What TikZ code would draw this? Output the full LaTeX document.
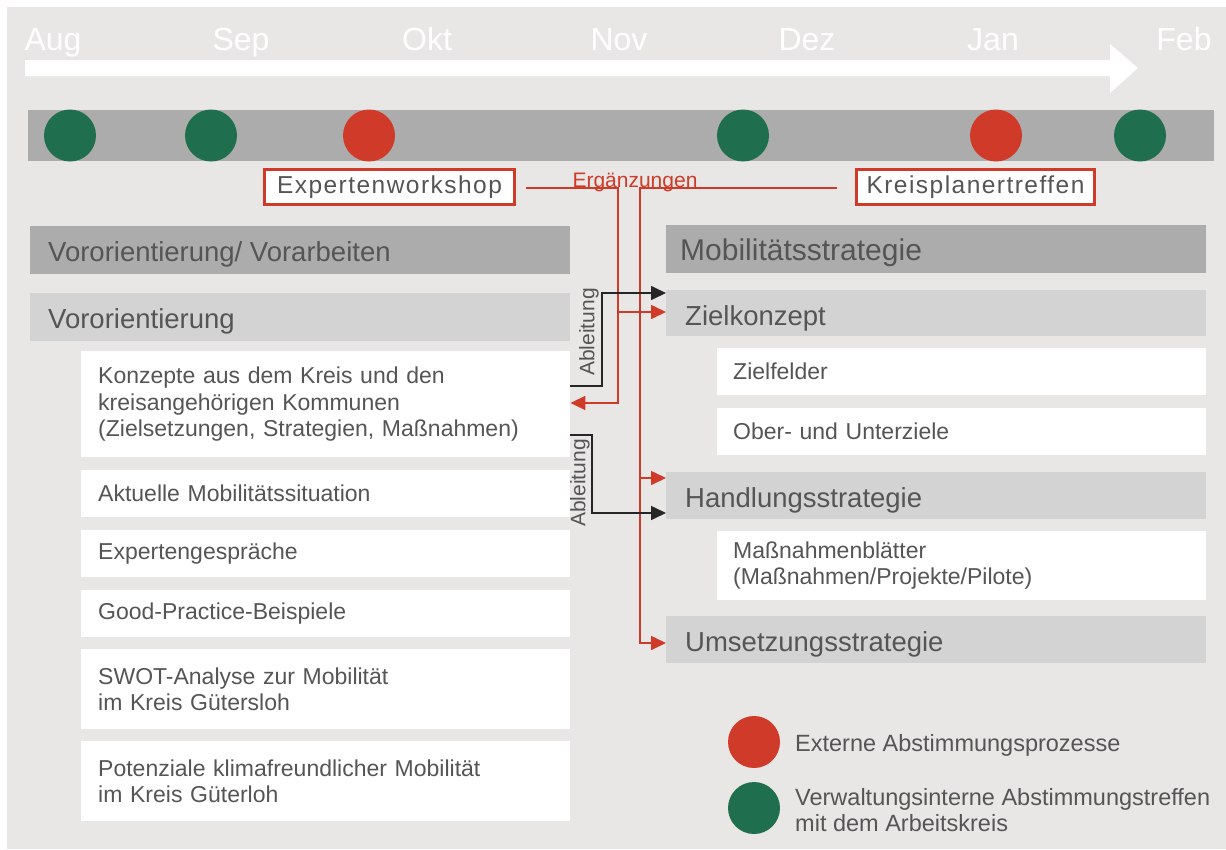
\documentclass[tikz,border=0pt]{standalone}
\usepackage{fontspec}
\setmainfont{Liberation Sans}
\usetikzlibrary{arrows.meta}
\definecolor{bg}{HTML}{E8E7E6}
\definecolor{dgray}{HTML}{ABACAB}
\definecolor{lgray}{HTML}{D3D3D3}
\definecolor{txt}{HTML}{555555}
\definecolor{myred}{HTML}{D03B29}
\definecolor{mygreen}{HTML}{1F6F4E}
\newcommand{\fMonth}{\fontsize{32}{36}\selectfont}
\newcommand{\fHead}{\fontsize{27.5}{32}\selectfont}
\newcommand{\fBig}{\fontsize{30}{34}\selectfont}
\newcommand{\fBox}{\fontsize{23}{26.5}\selectfont}
\newcommand{\fEvt}{\fontsize{24.5}{28}\selectfont\addfontfeature{LetterSpace=6}}
\newcommand{\fSmall}{\fontsize{21}{24}\selectfont}
\newcommand{\fLeg}{\fontsize{23.5}{26.5}\selectfont}
\begin{document}
\begin{tikzpicture}[x=1pt,y=-1pt,
  month/.style={text=white,font=\fMonth,inner sep=0pt,anchor=base},
  gdot/.style={circle,fill=mygreen,minimum size=52pt,inner sep=0pt},
  rdot/.style={circle,fill=myred,minimum size=52pt,inner sep=0pt},
  evt/.style={draw=myred,line width=3pt,fill=white,text=txt,font=\fEvt,inner sep=0pt},
  panel/.style={anchor=north west,inner ysep=0pt,align=left,text=txt},
  bar/.style={anchor=north west,inner sep=0pt,minimum width=540pt},
  hdark/.style={bar,fill=dgray},
  hlight/.style={bar,fill=lgray},
  htext/.style={anchor=base west,inner sep=0pt,text=txt,font=\fHead},
  wbox/.style={panel,fill=white,font=\fBox},
  redline/.style={draw=myred,line width=1.6pt},
  blkline/.style={draw=black!85,line width=1.6pt},
  redtip/.style={redline,-{Triangle[length=15pt,width=14pt]}},
  blktip/.style={blkline,-{Triangle[length=15pt,width=14pt]}},
  lab/.style={text=txt,font=\fSmall,inner sep=0pt},
  legtxt/.style={text=txt,font=\fLeg,anchor=west,align=left,inner sep=0pt}
]
\useasboundingbox (0,0) rectangle (1226,849);
\fill[white] (0,0) rectangle (1226,849);
\fill[bg] (7,7) rectangle (1226,849);

% months
\node[month] (mAug) at (53,50) {Aug};
\node[month] (mSep) at (241,50) {Sep};
\node[month] (mOkt) at (427,50) {Okt};
\node[month] (mNov) at (619,50) {Nov};
\node[month] (mDez) at (807,50) {Dez};
\node[month] (mJan) at (993,50) {Jan};
\node[month] (mFeb) at (1184,50) {Feb};

% time arrow
\fill[white] (25,60) -- (1110,60) -- (1110,44) -- (1138,68) -- (1110,93) -- (1110,76) -- (25,76) -- cycle;

% band and dots
\fill[dgray] (28,110) rectangle (1214,161);
\node[gdot] (d1) at (70,135.5) {};
\node[gdot] (d2) at (211,135.5) {};
\node[rdot] (d3) at (369,135.5) {};
\node[gdot] (d4) at (743,135.5) {};
\node[rdot] (d5) at (996,135.5) {};
\node[gdot] (d6) at (1140,135.5) {};

% event boxes
\node[evt,minimum width=250pt,minimum height=35pt] (ew) at (389.5,187) {Expertenworkshop};
\node[evt,minimum width=238pt,minimum height=35pt] (kt) at (975.5,187) {Kreisplanertreffen};

% left column
\node[hdark,minimum height=48pt] (vv) at (30,226) {};
\node[htext] (vvt) at ([xshift=18pt,yshift=-11pt]vv.west) {Vororientierung/ Vorarbeiten};
\node[hlight,minimum height=48pt] (vo) at (30,293) {};
\node[htext] (vot) at ([xshift=18pt,yshift=-11pt]vo.west) {Vororientierung};
\node[wbox,inner xsep=17pt,text width=455pt,minimum height=106pt] (konz) at (81,351) {Konzepte aus dem Kreis und den\\kreisangehörigen Kommunen\\(Zielsetzungen, Strategien, Maßnahmen)};
\node[wbox,inner xsep=17pt,text width=455pt,minimum height=47pt] (akt) at (81,470) {Aktuelle Mobilitätssituation};
\node[wbox,inner xsep=17pt,text width=455pt,minimum height=47pt] (exg) at (81,530) {Expertengespräche};
\node[wbox,inner xsep=17pt,text width=455pt,minimum height=47pt] (gp) at (81,590) {Good-Practice-Beispiele};
\node[wbox,inner xsep=17pt,text width=455pt,minimum height=80pt] (swot) at (81,649) {SWOT-Analyse zur Mobilität\\im Kreis Gütersloh};
\node[wbox,inner xsep=17pt,text width=455pt,minimum height=80pt] (pot) at (81,741) {Potenziale klimafreundlicher Mobilität\\im Kreis Güterloh};

% right column
\node[hdark,minimum height=48pt] (ms) at (666,225) {};
\node[htext,font=\fBig] (mst) at ([xshift=14pt,yshift=-11pt]ms.west) {Mobilitätsstrategie};
\node[hlight,minimum height=46pt] (ziel) at (666,290) {};
\node[htext] (zielt) at ([xshift=19pt,yshift=-12pt]ziel.west) {Zielkonzept};
\node[wbox,inner xsep=16pt,text width=457pt,minimum height=47pt] (zf) at (717,348) {Zielfelder};
\node[wbox,inner xsep=16pt,text width=457pt,minimum height=47pt] (ou) at (717,408) {Ober- und Unterziele};
\node[hlight,minimum height=47pt] (hand) at (666,472) {};
\node[htext] (handt) at ([xshift=19pt,yshift=-12pt]hand.west) {Handlungsstrategie};
\node[wbox,inner xsep=16pt,text width=457pt,minimum height=69pt] (mb) at (717,531) {Maßnahmenblätter\\(Maßnahmen/Projekte/Pilote)};
\node[hlight,minimum height=47pt] (ums) at (666,616) {};
\node[htext] (umst) at ([xshift=19pt,yshift=-12pt]ums.west) {Umsetzungsstrategie};

% connectors: Ergänzungen
\coordinate (ra) at (618,188);
\coordinate (rb) at (618,403);
\coordinate (rz) at (618,312);
\coordinate (ka) at (640,188);
\coordinate (kb) at (640,643);
\coordinate (kh) at (640,478);
\draw[redtip] ([xshift=10pt]ew.east |- ra) -- (ra) -- (rb) -- (konz.east |- rb);
\draw[redtip] (rz) -- (ziel.west |- rz);
\draw[redtip] ([xshift=-18pt]kt.west |- ka) -- (ka) -- (kb) -- (ums.west |- kb);
\draw[redtip] (kh) -- (hand.west |- kh);
\node[text=myred,font=\fSmall,anchor=base,inner sep=0pt] (erg) at (635,187) {Ergänzungen};

% connectors: Ableitung
\coordinate (b1a) at (602,386);
\coordinate (b1b) at (602,293);
\draw[blktip] (konz.east |- b1a) -- (b1a) -- (b1b) -- (ziel.west |- b1b);
\node[lab,rotate=90] (abl1) at (589,332) {Ableitung};
\coordinate (b2a) at (592,435);
\coordinate (b2b) at (592,513);
\draw[blktip] (konz.east |- b2a) -- (b2a) -- (b2b) -- (hand.west |- b2b);
\node[lab,rotate=90] (abl2) at (580,483) {Ableitung};

% legend
\node[rdot] (lr) at (754,742) {};
\node[gdot] (lg) at (754,808) {};
\node[legtxt] (lrt) at (795,745) {Externe Abstimmungsprozesse};
\node[legtxt] (lgt) at (795,810) {Verwaltungsinterne Abstimmungstreffen\\mit dem Arbeitskreis};
\end{tikzpicture}
\end{document}
